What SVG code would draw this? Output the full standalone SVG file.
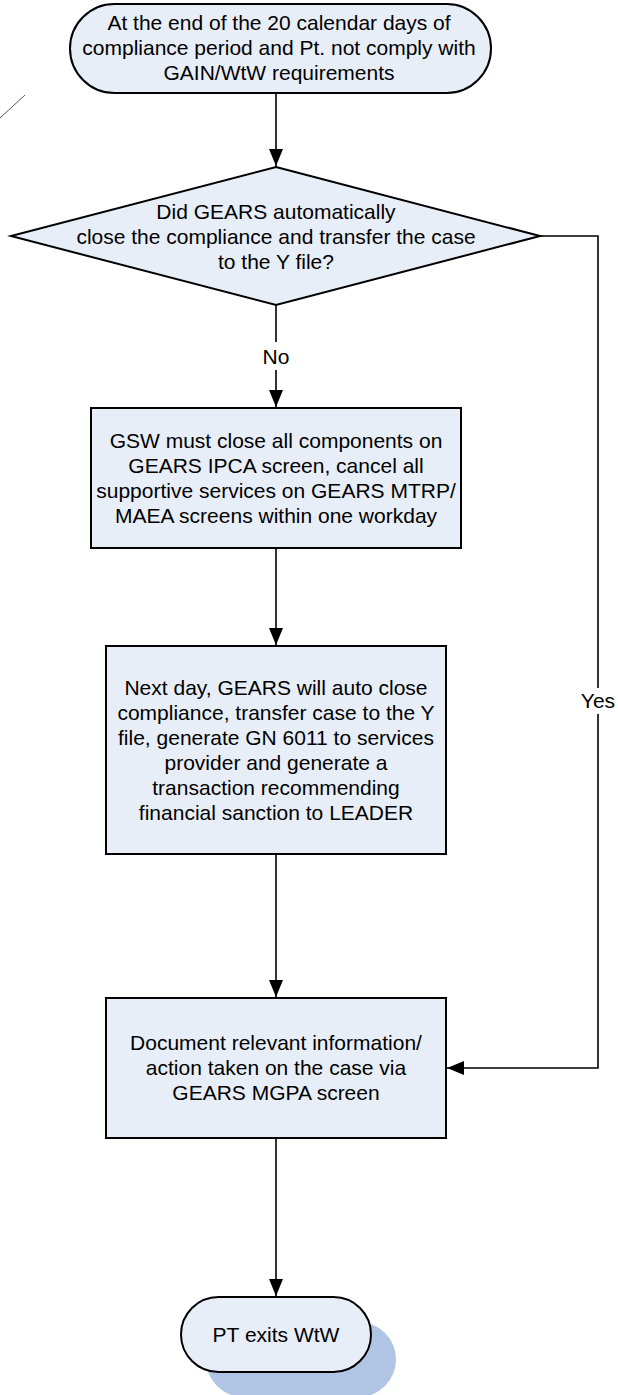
<svg xmlns="http://www.w3.org/2000/svg" width="618" height="1395" viewBox="0 0 618 1395">
<defs>
<style>
.shape{fill:#e8eef8;stroke:#000;stroke-width:2}
.t{font-family:"Liberation Sans",Arial,sans-serif;font-size:21px;fill:#000;text-anchor:middle}
.conn{fill:none;stroke:#000;stroke-width:1.6}
</style>
<marker id="ah" viewBox="0 0 17 14" refX="17" refY="7" markerWidth="17" markerHeight="14" markerUnits="userSpaceOnUse" orient="auto">
<path d="M0,0 L17,7 L0,14 Z" fill="#000"/>
</marker>
</defs>
<rect width="618" height="1395" fill="#fff"/>
<line x1="0" y1="118" x2="25" y2="95" stroke="#555" stroke-width="1"/>
<g id="connectors">
<line class="conn" x1="276" y1="93" x2="276" y2="166" marker-end="url(#ah)"/>
<line class="conn" x1="276" y1="305" x2="276" y2="407" marker-end="url(#ah)"/>
<line class="conn" x1="276" y1="548" x2="276" y2="645" marker-end="url(#ah)"/>
<line class="conn" x1="276" y1="854" x2="276" y2="997" marker-end="url(#ah)"/>
<line class="conn" x1="276" y1="1138" x2="276" y2="1296" marker-end="url(#ah)"/>
<polyline class="conn" points="540,236 598,236 598,1068 447,1068" marker-end="url(#ah)"/>
<rect x="265" y="342" width="24" height="28" fill="#fff"/>
<text class="t" x="276" y="364">No</text>
<rect x="580" y="688" width="36" height="26" fill="#fff"/>
<text class="t" x="598" y="708">Yes</text>
</g>
<g id="start">
<rect class="shape" x="70" y="4" width="421" height="89" rx="44.5"/>
<text class="t" x="279" y="30">At the end of the 20 calendar days of</text>
<text class="t" x="279" y="55">compliance period and Pt. not comply with</text>
<text class="t" x="279" y="80">GAIN/WtW requirements</text>
</g>
<g id="decision">
<polygon class="shape" points="276,167 540,236 276,305 11,236"/>
<text class="t" x="276" y="219">Did GEARS automatically</text>
<text class="t" x="276" y="244">close the compliance and transfer the case</text>
<text class="t" x="276" y="269">to the Y file?</text>
</g>
<g id="box1">
<rect class="shape" x="91" y="408" width="370" height="140"/>
<text class="t" x="276" y="448">GSW must close all components on</text>
<text class="t" x="276" y="473">GEARS IPCA screen, cancel all</text>
<text class="t" x="276" y="498">supportive services on GEARS MTRP/</text>
<text class="t" x="276" y="523">MAEA screens within one workday</text>
</g>
<g id="box2">
<rect class="shape" x="106" y="646" width="340" height="208"/>
<text class="t" x="276" y="695">Next day, GEARS will auto close</text>
<text class="t" x="276" y="720">compliance, transfer case to the Y</text>
<text class="t" x="276" y="745">file, generate GN 6011 to services</text>
<text class="t" x="276" y="770">provider and generate a</text>
<text class="t" x="276" y="795">transaction recommending</text>
<text class="t" x="276" y="820">financial sanction to LEADER</text>
</g>
<g id="box3">
<rect class="shape" x="106" y="998" width="340" height="140"/>
<text class="t" x="276" y="1050">Document relevant information/</text>
<text class="t" x="276" y="1075">action taken on the case via</text>
<text class="t" x="276" y="1100">GEARS MGPA screen</text>
</g>
<g id="end">
<rect x="206" y="1322" width="190" height="75" rx="37.5" fill="#b0c4e4"/>
<rect class="shape" x="181" y="1297" width="190" height="75" rx="37.5"/>
<text class="t" x="276" y="1342">PT exits WtW</text>
</g>
</svg>
